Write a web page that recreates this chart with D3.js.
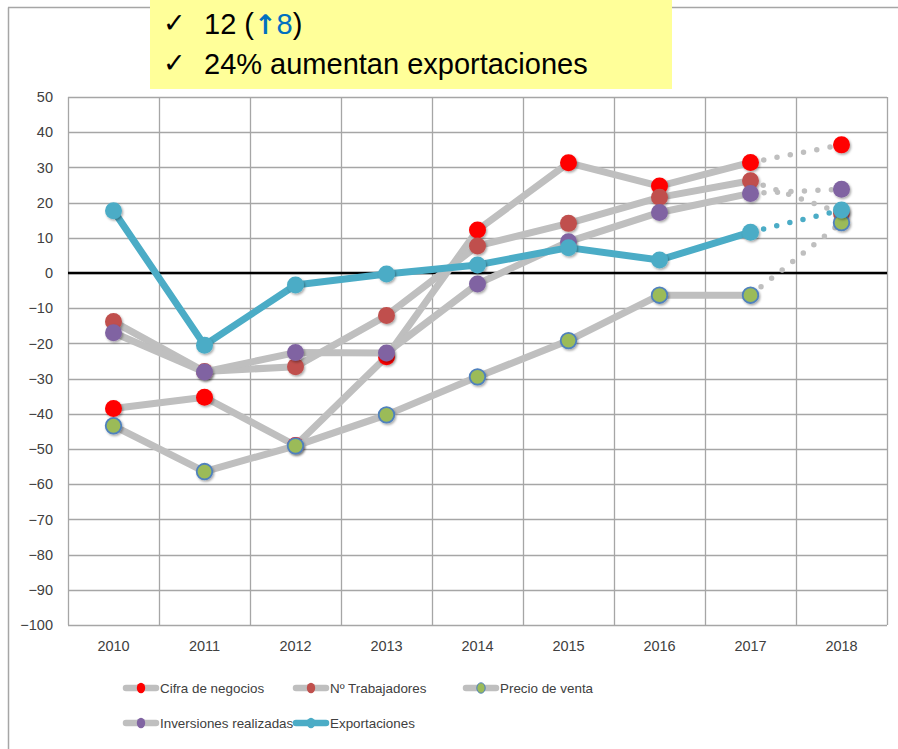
<!DOCTYPE html>
<html>
<head>
<meta charset="utf-8">
<script src="https://cdn.jsdelivr.net/npm/d3@7"></script>
<style>
  html, body { margin: 0; padding: 0; background: #fff; }
  svg { display: block; font-family: "Liberation Sans", Arial, sans-serif; }
</style>
</head>
<body>
<svg id="chart" width="898" height="749"></svg>
<script>
const years = ["2010","2011","2012","2013","2014","2015","2016","2017","2018"];
const cifraNegocios   = [-38.5, -35.3, -49.0, -23.8, 12.2, 31.3, 24.7, 31.4, 36.4];
const trabajadores    = [-13.8, -28.0, -26.6, -12.1,  7.7, 14.1, 21.5, 26.2, 17.0];
const precioVenta     = [-43.4, -56.4, -49.1, -40.3, -29.5, -19.2, -6.3, -6.3, 14.3];
const inversiones     = [-17.0, -28.1, -22.6, -22.7, -3.1,  8.9, 17.2, 22.6, 23.8];
const exportaciones   = [ 17.7, -20.5,  -3.4,  -0.3,  2.3,  7.2,  3.7, 11.6, 17.9];
const yTicks = [50,40,30,20,10,0,-10,-20,-30,-40,-50,-60,-70,-80,-90,-100];
const seriesNames = ["Cifra de negocios","Nº Trabajadores","Precio de venta","Inversiones realizadas","Exportaciones"];
const headerLine1 = "12 (";
const headerArrow = "↑";
const headerNum = "8";
const headerLine2 = "24% aumentan exportaciones";

const series = [
  {name: seriesNames[0], values: cifraNegocios, line: "#BFBFBF", fill: "#FF0000", stroke: "none"},
  {name: seriesNames[1], values: trabajadores,  line: "#BFBFBF", fill: "#C0504D", stroke: "none"},
  {name: seriesNames[2], values: precioVenta,   line: "#BFBFBF", fill: "#9BBB59", stroke: "#4F81BD"},
  {name: seriesNames[3], values: inversiones,   line: "#BFBFBF", fill: "#8064A2", stroke: "none"},
  {name: seriesNames[4], values: exportaciones, line: "#4BACC6", fill: "#4BACC6", stroke: "none"}
];

const svg = d3.select("#chart");
const defs = svg.append("defs");
const f = defs.append("filter").attr("id","sh").attr("x","-50%").attr("y","-50%").attr("width","200%").attr("height","200%");
f.append("feDropShadow").attr("dx",1.2).attr("dy",1.5).attr("stdDeviation",1.3).attr("flood-color","#000").attr("flood-opacity",0.35);

// outer frame
svg.append("line").attr("x1",8.5).attr("x2",8.5).attr("y1",7.5).attr("y2",749).attr("stroke","#A6A6A6").attr("stroke-width",1.5);
svg.append("line").attr("x1",8).attr("x2",898).attr("y1",7.5).attr("y2",7.5).attr("stroke","#A6A6A6").attr("stroke-width",1.5);

const pLeft = 68, pRight = 887, pTop = 97, pBottom = 625;
const x = d3.scaleBand().domain(years).range([pLeft, pRight]).padding(0);
const y = d3.scaleLinear().domain([-100, 50]).range([pBottom, pTop]);
const cx = d => x(d) + x.bandwidth()/2;

// horizontal grid
const gGrid = svg.append("g");
gGrid.selectAll("line.h").data(yTicks).enter().append("line")
  .attr("x1", pLeft).attr("x2", pRight)
  .attr("y1", d => Math.round(y(d))+0.5).attr("y2", d => Math.round(y(d))+0.5)
  .attr("stroke", "#A6A6A6").attr("stroke-width", 1.3);
// vertical grid (band boundaries)
const vb = years.map(d => x(d)).concat([pRight]);
gGrid.selectAll("line.v").data(vb).enter().append("line")
  .attr("x1", d => Math.round(d)+0.5).attr("x2", d => Math.round(d)+0.5)
  .attr("y1", pTop).attr("y2", pBottom)
  .attr("stroke", "#A6A6A6").attr("stroke-width", 1.3);
// zero line
svg.append("line").attr("x1", pLeft).attr("x2", pRight).attr("y1", y(0)).attr("y2", y(0))
  .attr("stroke", "#000").attr("stroke-width", 2.5);

// axes
const yAxis = svg.append("g").attr("transform", `translate(${pLeft-15},0)`)
  .call(d3.axisLeft(y).tickValues(yTicks).tickSize(0).tickPadding(0));
yAxis.select(".domain").remove();
yAxis.selectAll("text").attr("font-size", 14.5).attr("fill", "#404040")
  .attr("font-family", "Liberation Sans, Arial, sans-serif");

const xAxis = svg.append("g").attr("transform", `translate(0,${pBottom+12})`)
  .call(d3.axisBottom(x).tickSize(0).tickPadding(4));
xAxis.select(".domain").remove();
xAxis.selectAll("text").attr("font-size", 14.5).attr("fill", "#404040")
  .attr("font-family", "Liberation Sans, Arial, sans-serif");

// series
const solid = d3.line().x((d,i) => cx(years[i])).y(d => y(d)).curve(d3.curveLinear);
series.forEach(s => {
  const g = svg.append("g");
  const solidVals = s.values.slice(0, 8);
  g.append("path").datum(solidVals).attr("d", solid)
    .attr("fill", "none").attr("stroke", s.line)
    .attr("stroke-width", 7)
    .attr("stroke-linejoin", "round").attr("stroke-linecap", "round");
  const p1 = [cx(years[7]), y(s.values[7])], p2 = [cx(years[8]), y(s.values[8])];
  g.append("line").attr("x1", p1[0]).attr("y1", p1[1]).attr("x2", p2[0]).attr("y2", p2[1])
    .attr("stroke", s.line).attr("stroke-width", 5.5)
    .attr("stroke-linecap", "round").attr("stroke-dasharray", "0,13.5")
    .attr("stroke-dashoffset", -13.5);
  g.selectAll("circle").data(s.values).enter().append("circle")
    .attr("cx", (d,i) => cx(years[i])).attr("cy", d => y(d))
    .attr("r", s.stroke === "none" ? 8.5 : 7.8)
    .attr("fill", s.fill)
    .attr("stroke", s.stroke === "none" ? null : s.stroke)
    .attr("stroke-width", s.stroke === "none" ? null : 1.8)
    .attr("filter", "url(#sh)");
});

// legend
const legPos = [[123,688],[293,688],[463,688],[123,723],[293,723]];
series.forEach((s, i) => {
  const [lx, ly] = legPos[i];
  const g = svg.append("g");
  g.append("line").attr("x1", lx+3).attr("x2", lx+33).attr("y1", ly).attr("y2", ly)
    .attr("stroke", s.line).attr("stroke-width", 6.5).attr("stroke-linecap", "round");
  g.append("ellipse").attr("cx", lx+18).attr("cy", ly).attr("rx", 4.2).attr("ry", 5.2)
    .attr("fill", s.fill)
    .attr("stroke", s.stroke === "none" ? null : s.stroke).attr("stroke-width", 1);
  g.append("text").attr("x", lx+37).attr("y", ly).attr("dy", "0.35em")
    .attr("font-size", 13.4).attr("fill", "#404040").text(s.name);
});

// header callout box
svg.append("rect").attr("x", 150).attr("y", 0).attr("width", 522).attr("height", 89).attr("fill", "#FFFF99");
const hdr = svg.append("g").attr("font-family", "Liberation Sans, Arial, sans-serif");
hdr.append("text").attr("x", 163).attr("y", 32).attr("font-size", 27).attr("font-family", "DejaVu Sans").text("✓");
hdr.append("text").attr("x", 163).attr("y", 72).attr("font-size", 27).attr("font-family", "DejaVu Sans").text("✓");
const t1 = hdr.append("text").attr("x", 204).attr("y", 34).attr("font-size", 29).attr("fill", "#000");
t1.append("tspan").text(headerLine1);
t1.append("tspan").attr("fill", "#0070C0").attr("font-weight", "bold").attr("font-family","DejaVu Sans").attr("font-size", 27).text(headerArrow);
t1.append("tspan").attr("fill", "#0070C0").text(headerNum);
t1.append("tspan").text(")");
hdr.append("text").attr("x", 204).attr("y", 74).attr("font-size", 29).attr("fill", "#000").text(headerLine2);
</script>
</body>
</html>
